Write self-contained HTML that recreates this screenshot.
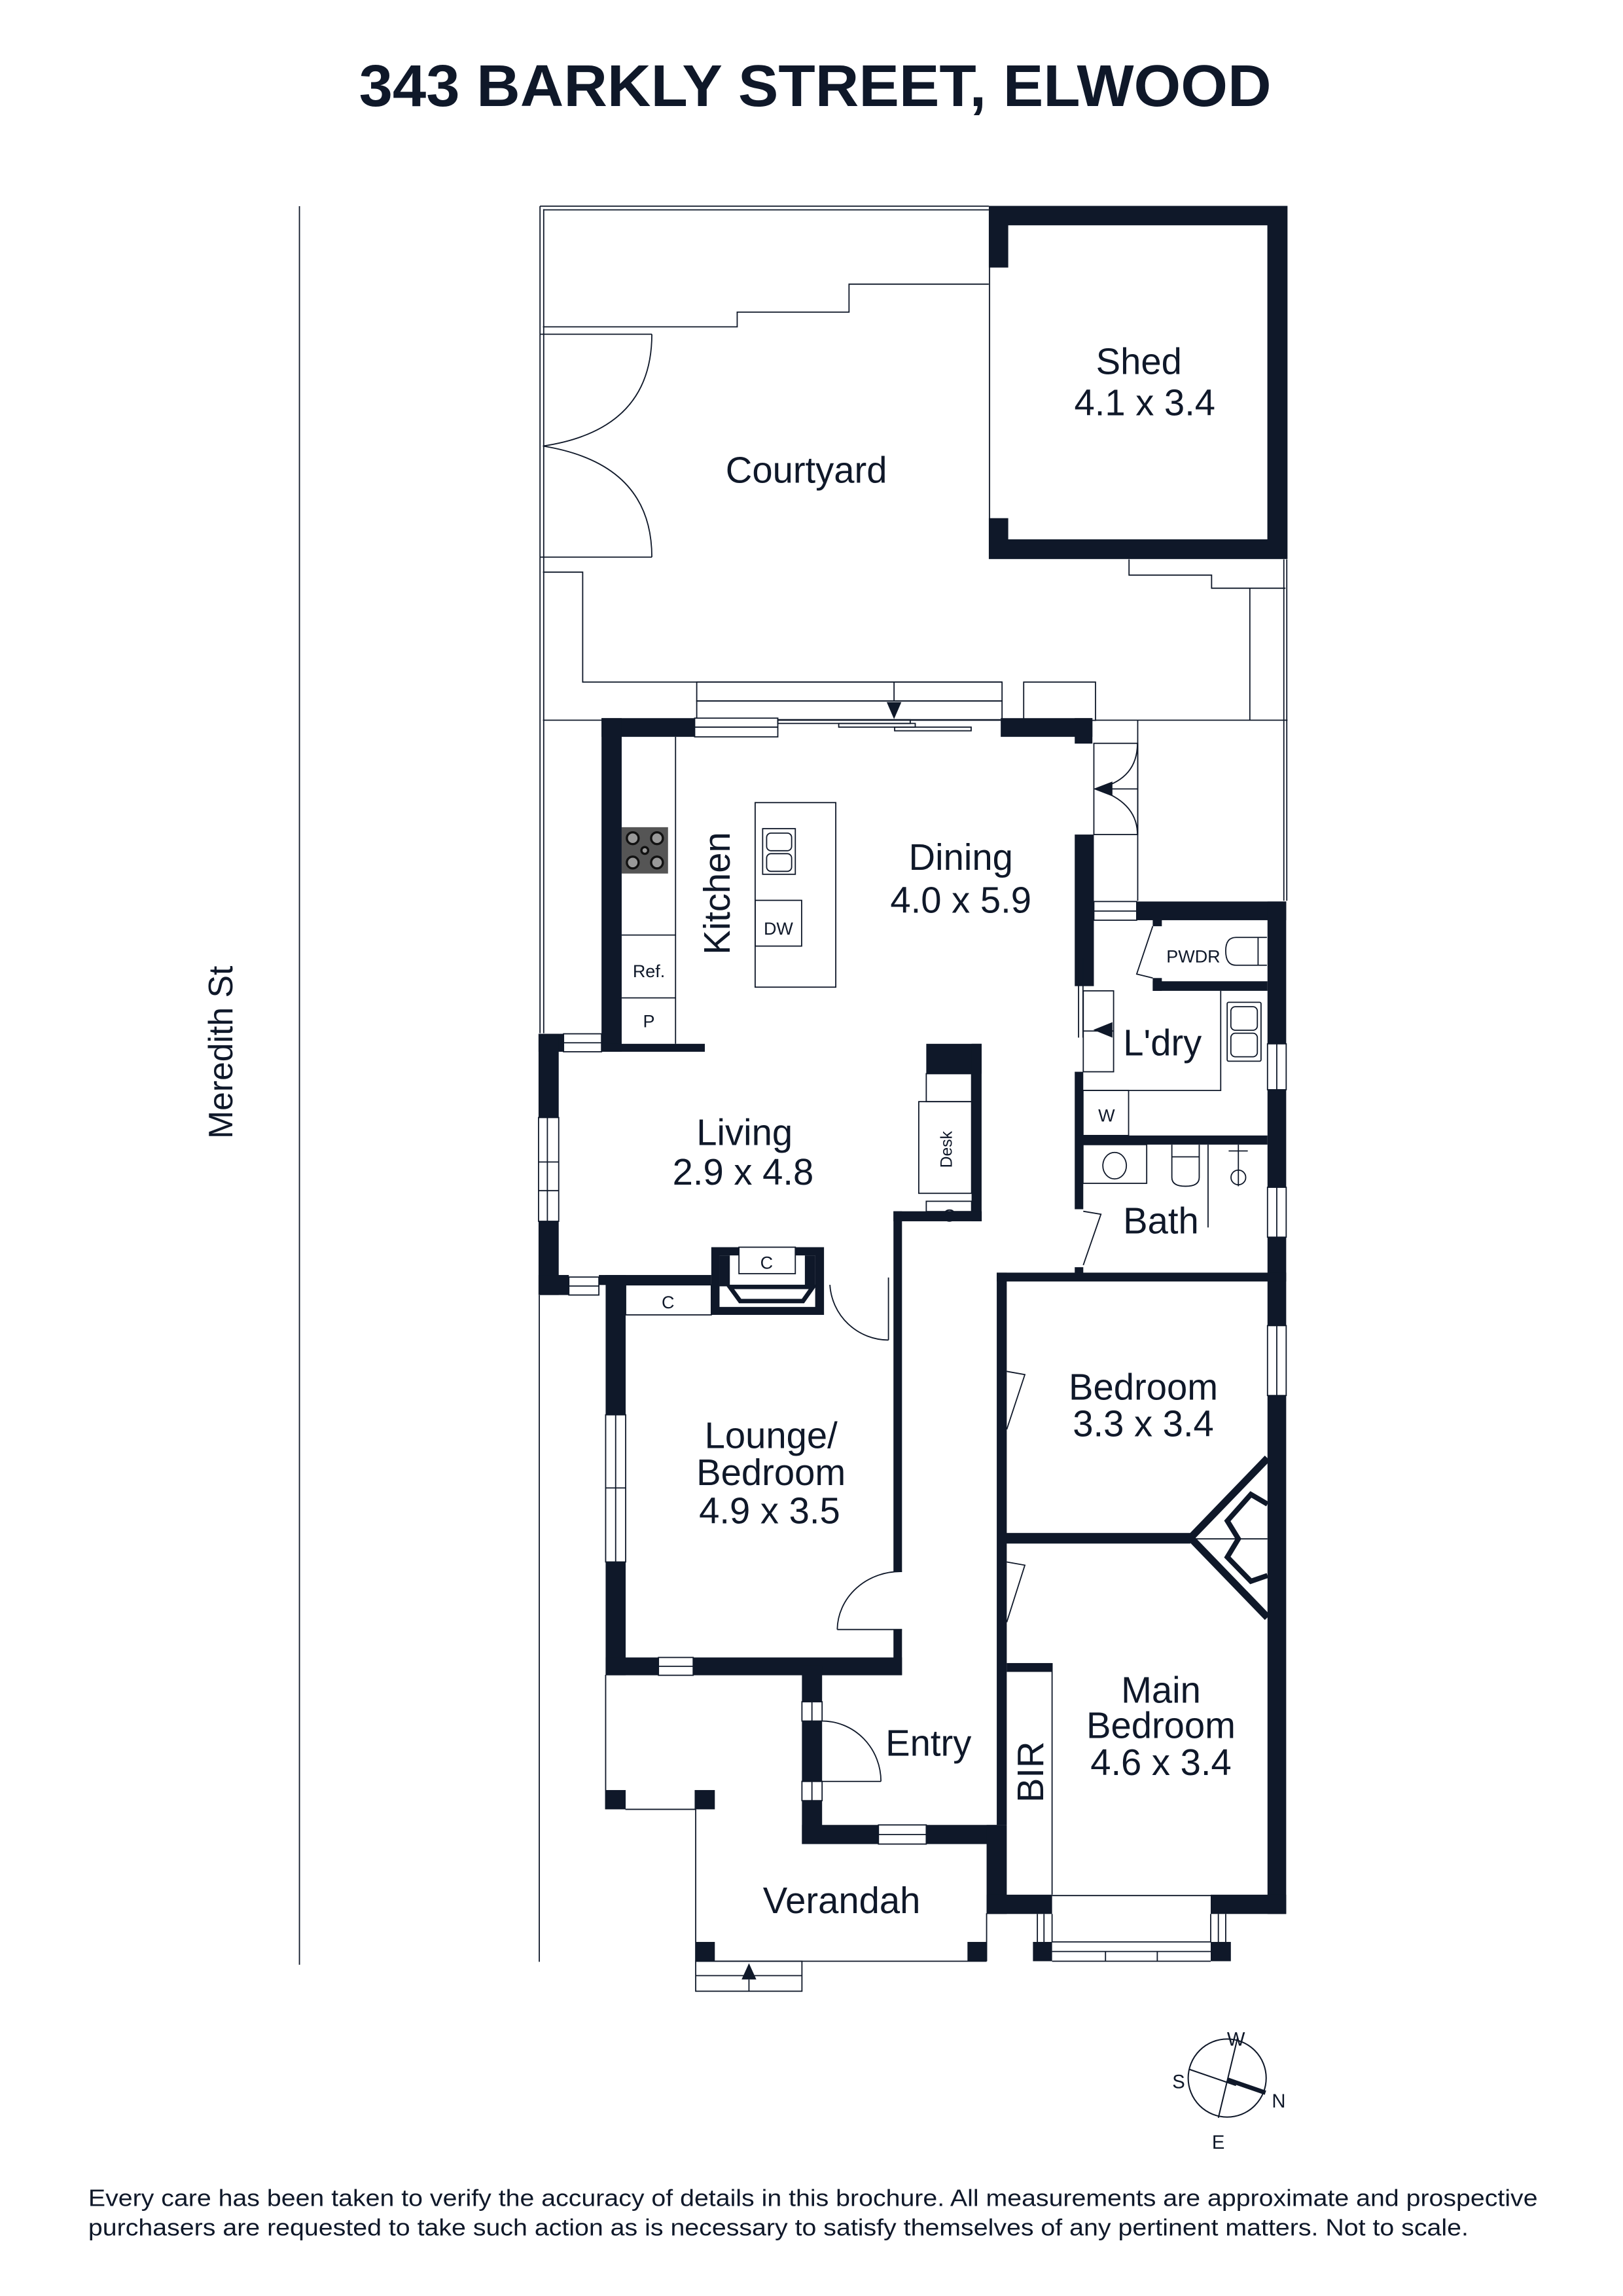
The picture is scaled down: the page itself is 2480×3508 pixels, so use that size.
<!DOCTYPE html>
<html><head><meta charset="utf-8"><style>
html,body{margin:0;padding:0;background:#fff;}
svg{display:block;}
text{font-family:"Liberation Sans",sans-serif;fill:#0f1829;}
</style></head><body>
<svg width="2480" height="3508" viewBox="0 0 1103 1560" xmlns="http://www.w3.org/2000/svg">
<rect width="1103" height="1560" fill="#fff"/>
<text x="554" y="72" font-size="40" font-weight="bold" text-anchor="middle" textLength="620" lengthAdjust="spacingAndGlyphs">343 BARKLY STREET, ELWOOD</text>

<g stroke="#0f1829" stroke-width="0.8" fill="none">
<!-- Meredith line -->
<line x1="203.5" y1="140" x2="203.5" y2="1335"/>
<!-- property lines -->
<line x1="367" y1="140" x2="367" y2="702"/>
<line x1="369.5" y1="142" x2="369.5" y2="702"/>
<line x1="366.5" y1="880" x2="366.5" y2="1333"/>
<line x1="367" y1="140" x2="672" y2="140"/>
<line x1="369.5" y1="142.5" x2="672" y2="142.5"/>
<polyline points="369,222 501,222 501,212 577,212 577,193 672,193"/>
<!-- gate -->
<polyline points="367,227 443,227"/>
<polyline points="367,378.5 443,378.5"/>
<path d="M443,227 Q443,292 369,303"/>
<path d="M369,303 Q443,315 443,378.5"/>
<polyline points="369,388.7 396,388.7 396,463.4 681,463.4"/>
<!-- window above dining -->
<rect x="473.5" y="463.4" width="207.5" height="12.8"/>
<rect x="473.5" y="476.2" width="207.5" height="13.1"/>
<line x1="607.6" y1="463.4" x2="607.6" y2="476"/>
<rect x="695.7" y="463.4" width="48.8" height="26"/>
<!-- right of shed -->
<polyline points="767.3,380 767.3,390.7 823.4,390.7 823.4,399.6 873.6,399.6"/>
<line x1="849.4" y1="399.6" x2="849.4" y2="489.3"/>
<line x1="872.5" y1="380" x2="872.5" y2="612"/>
<line x1="874.5" y1="380" x2="874.5" y2="612"/>
<line x1="369" y1="489.3" x2="413" y2="489.3"/>
<line x1="744.5" y1="489.3" x2="875" y2="489.3"/>
<line x1="773.2" y1="489.3" x2="773.2" y2="612"/>
<line x1="672.5" y1="181" x2="672.5" y2="353"/>
</g>
<polygon points="602.6,477 612.6,477 607.6,488.5" fill="#0f1829"/>

<!-- Shed -->
<g fill="#0f1829">
<rect x="672" y="139.8" width="203" height="240"/>
</g>
<rect x="685.2" y="153" width="176.1" height="213.4" fill="#fff"/>
<rect x="672" y="181.7" width="13.5" height="170.3" fill="#fff"/>
<line x1="672.5" y1="181" x2="672.5" y2="353" stroke="#0f1829" stroke-width="0.8"/>

<!-- main walls -->
<g fill="#0f1829">
<rect x="408.8" y="487.9" width="63.3" height="12.7"/>
<rect x="680.1" y="487.9" width="62.3" height="12.7"/>
<rect x="730.4" y="487.9" width="12" height="17.3"/>
<rect x="408.8" y="487.9" width="13.7" height="226.7"/>
<rect x="408.8" y="709.2" width="70.2" height="5.4"/>
<rect x="730.4" y="567" width="13" height="103"/>
<rect x="730.4" y="728.2" width="5.8" height="93.4"/>
<rect x="730.4" y="861" width="5.8" height="4.5"/>
<rect x="772.5" y="612.5" width="101.6" height="12.7"/>
<rect x="861.4" y="612.5" width="12.7" height="688"/>
<rect x="783.4" y="625" width="6.2" height="4.3"/>
<rect x="783.4" y="664.5" width="6.2" height="8.7"/>
<rect x="783.4" y="666.7" width="78" height="6.5"/>
<rect x="732" y="771.5" width="129.4" height="6.2"/>
<!-- living -->
<rect x="366" y="702.4" width="17" height="12.2"/>
<rect x="366" y="702.4" width="13.7" height="177.5"/>
<rect x="366" y="866.3" width="20.6" height="13.6"/>
<rect x="407" y="866.3" width="76.4" height="6.8"/>
<rect x="411.6" y="866.3" width="13.6" height="272"/>
<!-- fireplace -->
<rect x="483.4" y="847.4" width="76.6" height="46"/>
<!-- desk -->
<rect x="629.5" y="709.2" width="37.6" height="20.3"/>
<rect x="660.3" y="709.2" width="6.8" height="120.6"/>
<rect x="607.2" y="823" width="60" height="6.8"/>
<rect x="607.2" y="823" width="5.8" height="244.8"/>
<rect x="607.2" y="1107.2" width="5.8" height="31"/>
<rect x="411.6" y="1126.2" width="201.4" height="12.1"/>
<!-- entry -->
<rect x="545" y="1131.7" width="13.7" height="121.3"/>
<rect x="545" y="1240" width="139" height="13"/>
<!-- hallway right -->
<rect x="677.4" y="864.7" width="6.8" height="375.3"/>
<rect x="670.5" y="1240" width="13.7" height="60.5"/>
<rect x="677.4" y="864.7" width="196.7" height="6"/>
<rect x="684" y="1041.6" width="125" height="7.2"/>
<rect x="684.2" y="1130" width="30.8" height="6"/>
<rect x="670.5" y="1287.4" width="44.5" height="13.1"/>
<rect x="822.8" y="1287.4" width="51.3" height="13.1"/>
<!-- pillars -->
<rect x="702" y="1319.5" width="13" height="13.1"/>
<rect x="822.8" y="1319.5" width="13.7" height="13.1"/>
<rect x="472.8" y="1319.5" width="13" height="13.1"/>
<rect x="657.5" y="1319.5" width="13" height="13.1"/>
<rect x="411.6" y="1216.3" width="13.6" height="13.1"/>
<rect x="472.1" y="1216.3" width="13.7" height="13.1"/>
</g>

<!-- white gaps: windows/doors in walls -->
<g fill="#fff" stroke="#0f1829" stroke-width="0.8">
<rect x="861.4" y="709.2" width="12.7" height="31.2"/>
<rect x="861.4" y="806.7" width="12.7" height="33.9"/>
<rect x="861.4" y="900.7" width="12.7" height="47.5"/>
<rect x="366" y="759.3" width="13.7" height="70.5"/>
<rect x="383" y="702.4" width="25.8" height="12.2"/>
<rect x="386.6" y="867.7" width="20.4" height="12.2"/>
<rect x="411.6" y="961.3" width="13.6" height="100"/>
<rect x="447.5" y="1126.2" width="23.6" height="12.1"/>
<rect x="545" y="1156.3" width="13.7" height="13.1"/>
<rect x="545" y="1210.4" width="13.7" height="13.1"/>
<rect x="597" y="1240" width="32.5" height="13"/>
<rect x="472.1" y="487.9" width="56.5" height="12.7"/>
<rect x="743.4" y="612.5" width="29.1" height="12.7"/>
</g>
<g stroke="#0f1829" stroke-width="0.8" fill="none">
<line x1="867.7" y1="709.2" x2="867.7" y2="740.4"/>
<line x1="867.7" y1="806.7" x2="867.7" y2="840.6"/>
<line x1="867.7" y1="900.7" x2="867.7" y2="948.2"/>
<line x1="372" y1="759.3" x2="372" y2="829.8"/>
<line x1="366" y1="789.5" x2="379.7" y2="789.5"/>
<line x1="366" y1="809" x2="379.7" y2="809"/>
<line x1="383" y1="708.5" x2="408.8" y2="708.5"/>
<line x1="386.6" y1="873.8" x2="407" y2="873.8"/>
<line x1="418.4" y1="961.3" x2="418.4" y2="1061.3"/>
<line x1="411.6" y1="1011" x2="425.2" y2="1011"/>
<line x1="447.5" y1="1132.2" x2="471.1" y2="1132.2"/>
<line x1="551.8" y1="1156.3" x2="551.8" y2="1169.4"/>
<line x1="551.8" y1="1210.4" x2="551.8" y2="1223.5"/>
<line x1="597" y1="1246.5" x2="629.5" y2="1246.5"/>
<line x1="472.1" y1="494" x2="528.6" y2="494"/>
<line x1="743.4" y1="619" x2="772.5" y2="619"/>
<!-- sliding door -->
<line x1="528.6" y1="489" x2="680" y2="489"/>
<rect x="528.6" y="489" width="90" height="2.5"/>
<rect x="570" y="491.5" width="52" height="2.5"/>
<rect x="608" y="494" width="52" height="2.5"/>
<!-- door right of dining -->
<rect x="743.4" y="505" width="29.8" height="62"/>
<path d="M773,505 Q773,530 745,536"/>
<path d="M745,536 Q773,545 773,567"/>
<line x1="755" y1="536" x2="773" y2="536"/>
<!-- laundry sliding -->
<line x1="733" y1="651" x2="733" y2="705"/>
<line x1="736" y1="651" x2="736" y2="705"/>
<rect x="736.2" y="673.2" width="20.6" height="55"/>
<line x1="736.2" y1="700.5" x2="756.8" y2="700.5"/>
<polyline points="829.6,673.2 829.6,740.9 736,740.9"/>
<rect x="736" y="740.9" width="31" height="30.6"/>
<rect x="834" y="681" width="23" height="40" rx="1"/>
<rect x="836.5" y="684" width="18" height="16" rx="3"/>
<rect x="836.5" y="702" width="18" height="16" rx="3"/>
<!-- PWDR -->
<polyline points="783.4,629.3 772.5,661.8 783.4,664.5"/>
<path d="M861,636.9 L840,636.9 Q833,636.9 833,646 Q833,655.8 840,655.8 L861,655.8"/>
<line x1="855" y1="636.9" x2="855" y2="655.8"/>
<!-- bath -->
<rect x="736" y="777.7" width="43.3" height="26.3"/>
<ellipse cx="757.5" cy="792" rx="8" ry="9"/>
<path d="M796.4,777.7 L796.4,800 Q796.4,806 805.7,806 Q815,806 815,800 L815,777.7"/>
<line x1="796.4" y1="786" x2="815" y2="786"/>
<line x1="821" y1="777.7" x2="821" y2="834"/>
<line x1="841.6" y1="777.7" x2="841.6" y2="806"/>
<circle cx="841.6" cy="800" r="5"/>
<line x1="835" y1="782" x2="848" y2="782"/>
<polyline points="736.2,823 748.2,825 736.2,859.6"/>
<!-- kitchen -->
<line x1="459.1" y1="500.6" x2="459.1" y2="709.2"/>
<line x1="422.5" y1="635.3" x2="459.1" y2="635.3"/>
<line x1="422.5" y1="678" x2="459.1" y2="678"/>
<rect x="513.2" y="545.3" width="54.8" height="125.4"/>
<rect x="518.3" y="563" width="22.2" height="31"/>
<rect x="521" y="566" width="17" height="12" rx="3"/>
<rect x="521" y="580" width="17" height="12" rx="3"/>
<rect x="513.2" y="611.7" width="31.6" height="31.1"/>
<!-- fireplace C box left -->
<rect x="425.2" y="873" width="58.2" height="20.4"/>
<!-- desk -->
<rect x="629.5" y="729.5" width="30.8" height="19"/>
<rect x="624.4" y="748.5" width="35.9" height="62.3"/>
<rect x="629.5" y="816.2" width="30.8" height="7"/>
<!-- lounge doors -->
<line x1="603.8" y1="868" x2="603.8" y2="910.5"/>
<path d="M564,873 A40,40 0 0 0 603.8,910.5"/>
<line x1="569" y1="1107.2" x2="613" y2="1107.2"/>
<path d="M613,1067.8 A43,40 0 0 0 569,1107.2"/>
<!-- entry door -->
<line x1="545" y1="1210.4" x2="598.7" y2="1210.4"/>
<path d="M598.7,1210.4 A40,41 0 0 0 558.7,1169.4"/>
<!-- porch -->
<line x1="411.6" y1="1138" x2="411.6" y2="1229.4"/>
<line x1="425" y1="1229.4" x2="472.8" y2="1229.4"/>
<line x1="472.8" y1="1229.4" x2="472.8" y2="1332.6"/>
<line x1="670.5" y1="1300" x2="670.5" y2="1332.6"/>
<line x1="472.8" y1="1332.6" x2="670.5" y2="1332.6"/>
<rect x="472.8" y="1332.6" width="72.2" height="20.4"/>
<line x1="472.8" y1="1342.4" x2="545" y2="1342.4"/>
<!-- bedroom doors -->
<polyline points="684.2,931.8 696.5,934 684.2,971.2"/>
<polyline points="684.2,1061.3 696.5,1063.5 684.2,1102.2"/>
<!-- BIR -->
<line x1="715" y1="1130" x2="715" y2="1287.4"/>
<!-- bay -->
<line x1="715" y1="1288" x2="822.8" y2="1288"/>
<line x1="705" y1="1300.5" x2="705" y2="1319.5"/>
<line x1="709.5" y1="1300.5" x2="709.5" y2="1319.5"/>
<line x1="715" y1="1300.5" x2="715" y2="1319.5"/>
<line x1="822.8" y1="1300.5" x2="822.8" y2="1319.5"/>
<line x1="828" y1="1300.5" x2="828" y2="1319.5"/>
<line x1="833" y1="1300.5" x2="833" y2="1319.5"/>
<line x1="715" y1="1319.5" x2="822.8" y2="1319.5"/>
<line x1="715" y1="1326" x2="822.8" y2="1326"/>
<line x1="715" y1="1332.6" x2="822.8" y2="1332.6"/>
<line x1="751.3" y1="1326" x2="751.3" y2="1332.6"/>
<line x1="786.5" y1="1326" x2="786.5" y2="1332.6"/>
<line x1="809" y1="1045.6" x2="861.4" y2="1045.6"/>
</g>
<!-- bay diagonals -->
<g stroke="#0f1829" fill="none">
<polyline points="861.4,990.8 809.1,1044.9 861.4,1099" stroke-width="5"/>
<polyline points="861.4,1022 850.1,1015.4 834.1,1033.4 841.6,1045.6 834.1,1058 850.1,1074.4 861.4,1070.5" stroke-width="3.5"/>
</g>

<!-- fireplace interior -->
<rect x="489" y="853" width="65" height="35" fill="#fff"/>
<rect x="489" y="853" width="7" height="21" fill="#0f1829"/>
<rect x="547" y="853" width="7" height="21" fill="#0f1829"/>
<rect x="502.2" y="847.4" width="38.3" height="18" fill="#fff" stroke="#0f1829" stroke-width="0.8"/>
<polygon points="496,874.4 552.5,874.4 545.7,884 503,884" fill="none" stroke="#0f1829" stroke-width="3"/>

<!-- cooktop -->
<rect x="422.5" y="562" width="31.5" height="31.5" fill="#555"/>
<g fill="#999" stroke="#111" stroke-width="1.5">
<circle cx="430" cy="569.5" r="4"/><circle cx="446.5" cy="569.5" r="4"/>
<circle cx="430" cy="586" r="4"/><circle cx="446.5" cy="586" r="4"/>
<circle cx="438.2" cy="577.8" r="2.3"/>
</g>

<!-- arrows -->
<g fill="#0f1829">
<polygon points="743,699.7 756,694.5 756,705"/>
<polygon points="743,536 756,531 756,541"/>
<polygon points="509,1334 504,1345 514,1345"/>
</g>
<line x1="509" y1="1345" x2="509" y2="1353" stroke="#0f1829" stroke-width="0.8"/>

<!-- labels -->
<g font-size="25" text-anchor="middle">
<text x="774" y="254">Shed</text>
<text x="778" y="282">4.1 x 3.4</text>
<text x="548" y="328">Courtyard</text>
<text x="653" y="591">Dining</text>
<text x="653" y="620">4.0 x 5.9</text>
<text transform="translate(496,607) rotate(-90)">Kitchen</text>
<text x="506" y="778">Living</text>
<text x="505" y="805">2.9 x 4.8</text>
<text x="790" y="717">L'dry</text>
<text x="789" y="838">Bath</text>
<text x="777" y="951">Bedroom</text>
<text x="777" y="976">3.3 x 3.4</text>
<text x="524" y="984">Lounge/</text>
<text x="524" y="1009">Bedroom</text>
<text x="523" y="1035">4.9 x 3.5</text>
<text x="631" y="1193">Entry</text>
<text x="789" y="1157">Main</text>
<text x="789" y="1181">Bedroom</text>
<text x="789" y="1206">4.6 x 3.4</text>
<text transform="translate(709,1204) rotate(-90)">BIR</text>
<text x="572" y="1300">Verandah</text>
<text transform="translate(158,715) rotate(-90)" font-size="23">Meredith St</text>
</g>
<g font-size="12" text-anchor="middle">
<text x="811" y="654">PWDR</text>
<text x="529" y="635">DW</text>
<text x="441" y="664">Ref.</text>
<text x="441" y="698">P</text>
<text x="752" y="762">W</text>
<text x="521" y="862">C</text>
<text x="454" y="889">C</text>
<text x="645" y="830">C</text>
<text transform="translate(647,781) rotate(-90)" font-size="11">Desk</text>
</g>

<!-- compass -->
<g stroke="#0f1829" fill="none" stroke-width="0.9">
<circle cx="834" cy="1412" r="26.5"/>
<line x1="841" y1="1385" x2="828" y2="1439"/>
<line x1="808" y1="1406" x2="840" y2="1417"/>
<line x1="834" y1="1413" x2="860" y2="1422" stroke-width="3"/>
</g>
<g font-size="13" text-anchor="middle">
<text x="840" y="1390">W</text>
<text x="801" y="1419">S</text>
<text x="869" y="1432">N</text>
<text x="828" y="1460">E</text>
</g>

<g font-size="16">
<text x="60" y="1499" textLength="985" lengthAdjust="spacingAndGlyphs">Every care has been taken to verify the accuracy of details in this brochure. All measurements are approximate and prospective</text>
<text x="60" y="1519" textLength="938" lengthAdjust="spacingAndGlyphs">purchasers are requested to take such action as is necessary to satisfy themselves of any pertinent matters. Not to scale.</text>
</g>
</svg>
</body></html>
